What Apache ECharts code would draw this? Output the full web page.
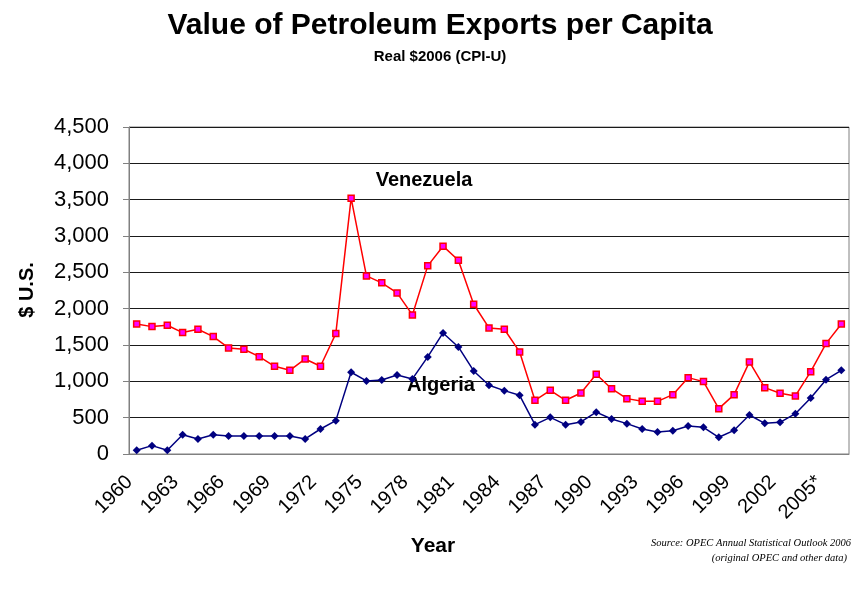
<!DOCTYPE html>
<html>
<head>
<meta charset="utf-8">
<title>Value of Petroleum Exports per Capita</title>
<script src="https://cdn.jsdelivr.net/npm/echarts@6/dist/echarts.min.js"></script>
<style>
  html, body { margin: 0; padding: 0; background: #ffffff; }
  #chart { width: 856px; height: 590px; }
</style>
</head>
<body>
<div id="chart"></div>
<script>
// years on the x axis (2005 is starred in the source)
const years = [
  "1960", "1961", "1962", "1963", "1964", "1965", "1966", "1967", "1968", "1969",
  "1970", "1971", "1972", "1973", "1974", "1975", "1976", "1977", "1978", "1979",
  "1980", "1981", "1982", "1983", "1984", "1985", "1986", "1987", "1988", "1989",
  "1990", "1991", "1992", "1993", "1994", "1995", "1996", "1997", "1998", "1999",
  "2000", "2001", "2002", "2003", "2004", "2005*", "2006",
];

// $ per capita, real 2006 dollars
const venezuela = [
  1790, 1753, 1772, 1671, 1717, 1616, 1460, 1441, 1340, 1207,
  1152, 1308, 1207, 1657, 3521, 2451, 2355, 2217, 1914, 2589,
  2860, 2667, 2061, 1735, 1717, 1405, 739, 877, 739, 840,
  1097, 899, 762, 725, 725, 817, 1051, 996, 624, 817,
  1267, 913, 835, 799, 1133, 1519, 1790,
];

const algeria = [
  51, 115, 51, 266, 207, 266, 248, 248, 248, 248,
  248, 207, 344, 459, 1125, 1005, 1019, 1088, 1033, 1336,
  1666, 1473, 1143, 946, 872, 808, 404, 505, 404, 441,
  576, 482, 418, 344, 303, 321, 386, 367, 230, 326,
  537, 422, 436, 555, 771, 1023, 1152,
];

const yMin = 0;
const yMax = 4500;
const yStep = 500;

const font = "Liberation Sans, Arial, sans-serif";
const serif = "Liberation Serif, Times New Roman, serif";

const chartInstance = echarts.init(document.getElementById("chart"));

const chartOpt = {
  animation: false,
  backgroundColor: "#ffffff",
  title: {
    text: "Value of Petroleum Exports per Capita",
    subtext: "Real $2006 (CPI-U)",
    left: 435,
    top: 6,
    textAlign: "center",
    itemGap: 8,
    textStyle: {
      fontFamily: font,
      fontSize: 30,
      fontWeight: "bold",
      color: "#000000",
    },
    subtextStyle: {
      fontFamily: font,
      fontSize: 15,
      fontWeight: "bold",
      color: "#000000",
    },
  },
  grid: {
    left: 129,
    top: 127,
    right: 7,
    bottom: 136,
    show: true,
    borderColor: "#808080",
    borderWidth: 1,
  },
  xAxis: {
    type: "category",
    data: years,
    boundaryGap: true,
    axisLine: {
      lineStyle: { color: "#808080", width: 1 },
    },
    axisTick: {
      interval: 2,
      length: 7,
      lineStyle: { color: "#808080" },
    },
    axisLabel: {
      interval: 2,
      rotate: 45,
      margin: 32,
      verticalAlign: "bottom",
      fontFamily: font,
      fontSize: 20,
      color: "#000000",
    },
  },
  yAxis: {
    type: "value",
    min: yMin,
    max: yMax,
    interval: yStep,
    axisLine: {
      show: true,
      lineStyle: { color: "#808080", width: 1 },
    },
    axisTick: {
      show: true,
      length: 6,
      lineStyle: { color: "#808080" },
    },
    axisLabel: {
      margin: 20,
      fontFamily: font,
      fontSize: 22,
      color: "#000000",
      formatter: (v) => v.toLocaleString("en-US"),
    },
    splitLine: {
      lineStyle: { color: "#1a1a1a", width: 1 },
    },
  },
  graphic: [
    {
      type: "text",
      x: 27,
      y: 290,
      rotation: Math.PI / 2,
      style: {
        text: "$ U.S.",
        font: "bold 20px " + font,
        fill: "#000000",
        align: "center",
        verticalAlign: "middle",
      },
    },
    {
      type: "text",
      x: 433,
      y: 546,
      style: {
        text: "Year",
        font: "bold 21px " + font,
        fill: "#000000",
        align: "center",
        verticalAlign: "middle",
      },
    },
    {
      type: "text",
      x: 424,
      y: 180,
      style: {
        text: "Venezuela",
        font: "bold 20px " + font,
        fill: "#000000",
        align: "center",
        verticalAlign: "middle",
      },
    },
    {
      type: "text",
      x: 441,
      y: 385,
      style: {
        text: "Algeria",
        font: "bold 20px " + font,
        fill: "#000000",
        align: "center",
        verticalAlign: "middle",
      },
    },
    {
      type: "text",
      x: 851,
      y: 543,
      style: {
        text: "Source: OPEC Annual Statistical Outlook 2006",
        font: "italic 10.5px " + serif,
        fill: "#000000",
        align: "right",
        verticalAlign: "middle",
      },
    },
    {
      type: "text",
      x: 847,
      y: 558,
      style: {
        text: "(original OPEC and other data)",
        font: "italic 10.5px " + serif,
        fill: "#000000",
        align: "right",
        verticalAlign: "middle",
      },
    },
  ],
  series: [
    {
      name: "Venezuela",
      type: "line",
      data: venezuela,
      symbol: "rect",
      symbolSize: 6,
      lineStyle: { color: "#ff0000", width: 1.5 },
      itemStyle: { color: "#ff00ff", borderColor: "#ff0000", borderWidth: 1.5 },
      z: 3,
    },
    {
      name: "Algeria",
      type: "line",
      data: algeria,
      symbol: "diamond",
      symbolSize: 8,
      lineStyle: { color: "#000080", width: 1.5 },
      itemStyle: { color: "#000080" },
      z: 3,
    },
  ],
};

chartInstance.setOption(chartOpt);
</script>
</body>
</html>
